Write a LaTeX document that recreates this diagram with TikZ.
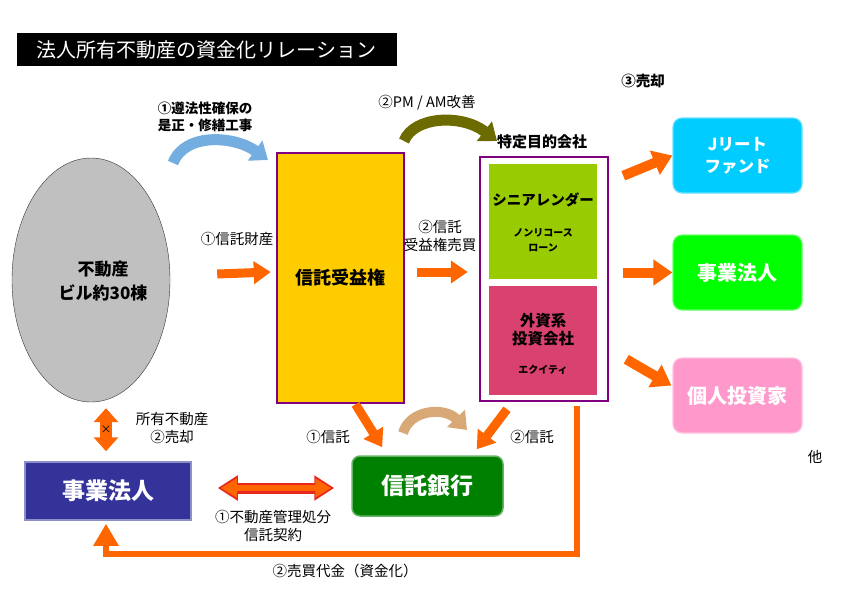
\documentclass[tikz,border=0pt]{standalone}
\usepackage{fontspec}
\setmainfont{Noto Sans CJK JP}
\usetikzlibrary{shapes.geometric,arrows.meta,positioning,calc}

\definecolor{arrowor}{HTML}{FF6600}
\definecolor{contractred}{HTML}{E8281E}
\definecolor{estategray}{HTML}{C0C0C0}
\definecolor{trustyellow}{HTML}{FFCC00}
\definecolor{spcpurple}{HTML}{800080}
\definecolor{seniorgreen}{HTML}{99CC00}
\definecolor{equityred}{HTML}{D9416E}
\definecolor{reitcyan}{HTML}{00CCFF}
\definecolor{buyergreen}{HTML}{00FF00}
\definecolor{indivpink}{HTML}{FF99CC}
\definecolor{bankgreen}{HTML}{008000}
\definecolor{corpblue}{HTML}{333399}
\definecolor{repairblue}{HTML}{74AEE0}
\definecolor{pmolive}{HTML}{6B6B00}
\definecolor{trusttan}{HTML}{D9A877}

\begin{document}
\begin{tikzpicture}[
    x=1pt, y=-1pt,
    titlenode/.style={fill=black, text=white, font=\fontsize{20}{24}\selectfont, minimum width=380pt, minimum height=33pt, inner sep=0pt},
    lbl/.style={font=\fontsize{14.5}{18}\selectfont, align=center, inner sep=1pt},
    lblbold/.style={lbl, font=\fontsize{14.5}{18}\selectfont\bfseries},
    purplebox/.style={draw=spcpurple, line width=2.5pt, inner sep=0pt, font=\fontsize{18}{22}\selectfont\bfseries},
    innerbox/.style={minimum width=108pt, inner sep=0pt},
    boxhead/.style={font=\fontsize{14.5}{18}\selectfont\bfseries, align=center, inner sep=0pt},
    boxnote/.style={font=\fontsize{10}{15}\selectfont\bfseries, align=center, inner sep=0pt},
    buyerbox/.style={rounded corners=9pt, minimum width=129pt, minimum height=75pt, text=white, line width=1.2pt, align=center, font=\fontsize{20}{24}\selectfont\bfseries},
    bigbox/.style={minimum height=59pt, text=white, line width=1.5pt, font=\fontsize{23}{26}\selectfont\bfseries},
    blockarrow/.style={line width=9pt, draw=arrowor, -{Triangle[length=17pt,width=22pt]}},
    twoway/.style={line width=12pt, draw=arrowor, {Triangle[length=14pt,width=24pt]}-{Triangle[length=14pt,width=24pt]}},
    curvearrow/.style={line width=11pt, -{Triangle[length=16pt,width=24pt]}}
]
\useasboundingbox (0,0) rectangle (842,595);

% Title
\node[titlenode] (title) at (206.5,49.5) {法人所有不動産の資金化リレーション};

% Property, beneficiary right, SPC
\node[ellipse, draw=black!80, fill=estategray, minimum width=158pt, minimum height=244pt] (estate) at (91,280) {};
\node[align=center, font=\fontsize{17}{24}\selectfont\bfseries] (estatename) at (103,281) {不動産\\ビル約30棟};
\node[purplebox, fill=trustyellow, minimum width=127pt, minimum height=250pt] (benefit) at (340.5,278) {信託受益権};
\node[purplebox, fill=white, minimum width=128pt, minimum height=244pt] (spc) at (544,279) {};
\node[innerbox, fill=seniorgreen, minimum height=115pt] (senior) at (543,221.5) {};
\node[innerbox, fill=equityred, minimum height=109pt] (equity) at (543,340.5) {};
\node[boxhead] (seniorname) at (543,200) {シニアレンダー};
\node[boxnote] (seniornote) at (543,240) {ノンリコース\\ローン};
\node[boxhead, font=\fontsize{15.5}{18}\selectfont\bfseries] (equityname) at (543,330) {外資系\\投資会社};
\node[boxnote] (equitynote) at (543,370) {エクイティ};
\node[lblbold, font=\fontsize{15}{17}\selectfont\bfseries] (spcname) at (542,142) {特定目的会社};

% Buyers
\node[buyerbox, fill=reitcyan, draw=reitcyan!60!white, font=\fontsize{16.5}{22}\selectfont\bfseries] (reit) at (737.5,155.5) {Jリート\\ファンド};
\node[buyerbox, fill=buyergreen, draw=buyergreen!60!white] (buyer) at (737.5,272.5) {事業法人};
\node[buyerbox, fill=indivpink, draw=indivpink!60!white] (indiv) at (737.5,395.5) {個人投資家};
\node[lbl] (other) at (815,457) {他};

% Trust bank and corporation
\node[bigbox, rounded corners=8pt, fill=bankgreen, draw=bankgreen!60!white, minimum width=151pt, minimum height=60pt] (bank) at (427.5,486) {信託銀行};
\node[bigbox, fill=corpblue, draw=corpblue!55!white, minimum width=166pt, minimum height=58pt] (corp) at (108,491) {事業法人};

% Flow arrows
\draw[blockarrow] ($(estate.east)+(47pt,6pt)$) -- ($(benefit.west)+(-5pt,6pt)$);
\draw[blockarrow] ($(benefit.east)+(12pt,6pt)$) -- ($(spc.west)+(-11pt,7pt)$);
\draw[blockarrow, line width=10pt, -{Triangle[length=19pt,width=25pt]}] ($(spc.north east)+(14pt,-20pt)$) -- (reit.west);
\draw[blockarrow, line width=10pt, -{Triangle[length=19pt,width=25pt]}] ($(buyer.west -| spc.east)+(14pt,0pt)$) -- (buyer.west);
\draw[blockarrow, line width=10pt, -{Triangle[length=19pt,width=25pt]}] ($(spc.south east)+(17pt,43pt)$) -- ($(indiv.west)+(-1pt,10pt)$);
\draw[blockarrow] ($(benefit.south)+(15pt,0pt)$) -- ($(bank.north west)+(31pt,8pt)$);
\draw[blockarrow] ($(spc.south)+(-37pt,-7pt)$) -- ($(bank.north east)+(-27pt,6pt)$);
\draw[twoway] ($(estate.south)+(15pt,-6pt)$) -- ($(corp.north)+(-2pt,10pt)$)
    node[midway, font=\fontsize{11}{11}\selectfont, inner sep=0pt] (nomark) {×};

% Trust contract
\draw[line width=11pt, draw=contractred, {Triangle[length=20pt,width=24pt]}-{Triangle[length=20pt,width=24pt]}] ($(corp.east)+(26pt,3pt)$) -- ($(bank.west)+(-17pt,-2pt)$);
\draw[line width=6pt, draw=arrowor, shorten <=3pt, shorten >=3pt, {Triangle[length=16pt,width=18pt]}-{Triangle[length=16pt,width=18pt]}] ($(corp.east)+(26pt,3pt)$) -- ($(bank.west)+(-17pt,-2pt)$);

% Sale proceeds
\draw[line width=6pt, draw=arrowor, -{Triangle[length=22pt,width=24pt]}] ($(spc.south)+(33pt,-4pt)$) -- ++(0pt,-148pt) -| ($(corp.south)+(-2pt,-3pt)$);

% Curved arrows
\draw[curvearrow, draw=repairblue] (173,163) .. controls (185,132) and (235,136) .. (268,160);
\draw[curvearrow, draw=pmolive] (404,141) .. controls (414,116) and (462,114) .. (497,141);
\draw[curvearrow, draw=trusttan, line width=10pt] (403,433) .. controls (410,409) and (445,407) .. (467,430);

% Labels
\node[lblbold, font=\fontsize{13.5}{17}\selectfont\bfseries] (lblrepair) at (205,117) {①遵法性確保の\\是正・修繕工事};
\node[lbl] (lblpm) at (427,103) {②PM / AM改善};
\node[lblbold] (lblsale) at (643,81) {③売却};
\node[lbl] (lbltrustprop) at (237,239) {①信託財産};
\node[lbl] (lbltrade) at (440,236) {②信託\\受益権売買};
\node[lbl] (lblsellown) at (172,428) {所有不動産\\②売却};
\node[lbl] (lbltrustone) at (328,437) {①信託};
\node[lbl] (lbltrusttwo) at (532,437) {②信託};
\node[lbl] (lblcontract) at (273,526) {①不動産管理処分\\信託契約};
\node[lbl] (lblproceeds) at (345,571) {②売買代金（資金化）};

\end{tikzpicture}
\end{document}
